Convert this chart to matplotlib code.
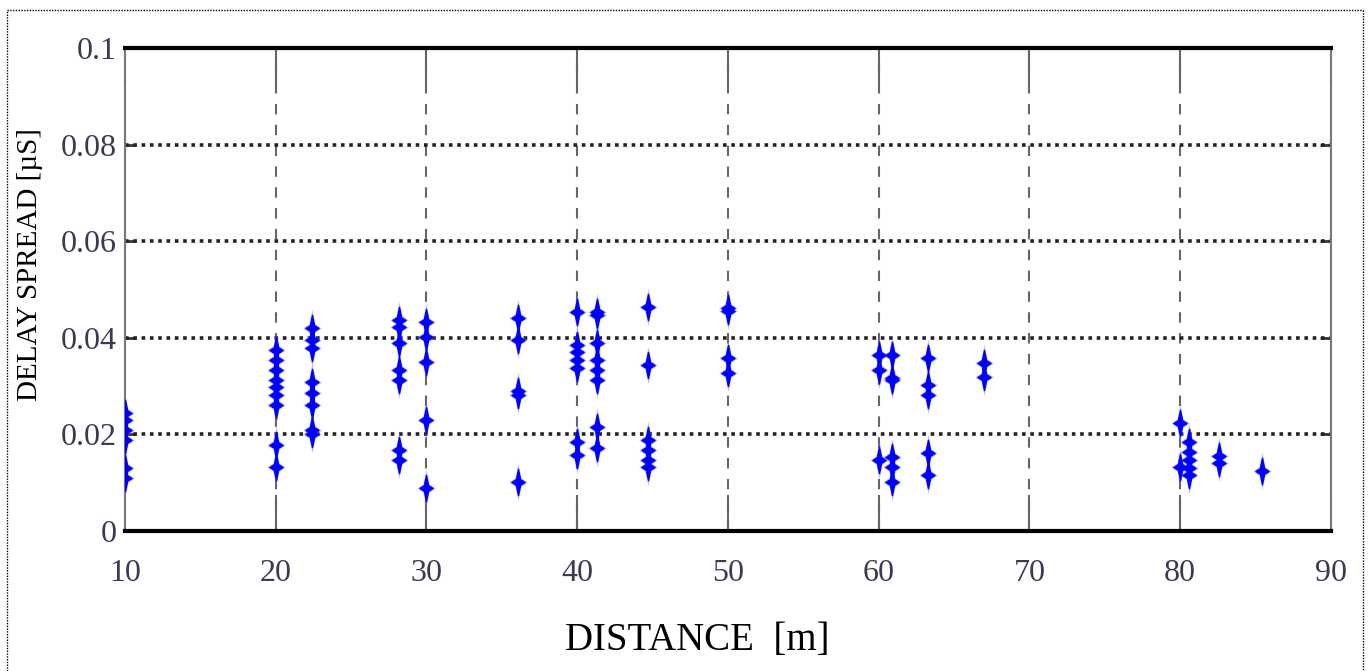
import numpy as np
import matplotlib.pyplot as plt
from matplotlib.path import Path
from matplotlib.lines import Line2D

dist_10 = [10.0, 10.0, 10.0, 10.0, 10.0, 10.0]
ds_10 = [0.0244, 0.0230, 0.0209, 0.0188, 0.0130, 0.0110]
dist_20 = [20.0] * 9
ds_20 = [0.0375, 0.0354, 0.0333, 0.0313, 0.0298, 0.0282, 0.0261, 0.0178, 0.0133]
dist_22 = [22.4] * 8
ds_22 = [0.0420, 0.0395, 0.0379, 0.0308, 0.0286, 0.0261, 0.0210, 0.0200]
dist_28 = [28.2] * 7
ds_28 = [0.0437, 0.0422, 0.0389, 0.0333, 0.0313, 0.0168, 0.0147]
dist_30 = [30.0] * 5
ds_30 = [0.0433, 0.0402, 0.0350, 0.0230, 0.0089]
dist_36 = [36.1] * 5
ds_36 = [0.0441, 0.0395, 0.0290, 0.0282, 0.0101]
dist_40 = [40.0] * 7
ds_40 = [0.0453, 0.0385, 0.0371, 0.0354, 0.0337, 0.0184, 0.0157]
dist_41 = [41.3] * 8
ds_41 = [0.0453, 0.0447, 0.0389, 0.0354, 0.0333, 0.0313, 0.0215, 0.0172]
dist_44 = [44.7] * 6
ds_44 = [0.0464, 0.0344, 0.0188, 0.0168, 0.0147, 0.0133]
dist_50 = [50.0] * 4
ds_50 = [0.0462, 0.0455, 0.0358, 0.0327]
dist_60 = [60.0] * 3
ds_60 = [0.0364, 0.0333, 0.0147]
dist_61 = [60.9] * 6
ds_61 = [0.0364, 0.0317, 0.0313, 0.0153, 0.0133, 0.0101]
dist_63 = [63.3] * 5
ds_63 = [0.0358, 0.0302, 0.0282, 0.0161, 0.0116]
dist_67 = [67.0] * 2
ds_67 = [0.0348, 0.0319]
dist_80 = [80.0] * 2
ds_80 = [0.0224, 0.0133]
dist_81 = [80.6] * 5
ds_81 = [0.0184, 0.0164, 0.0147, 0.0130, 0.0116]
dist_83 = [82.6] * 2
ds_83 = [0.0155, 0.0141]
dist_85 = [85.4]
ds_85 = [0.0124]

distance = (dist_10 + dist_20 + dist_22 + dist_28 + dist_30 + dist_36 + dist_40 + dist_41
            + dist_44 + dist_50 + dist_60 + dist_61 + dist_63 + dist_67 + dist_80 + dist_81
            + dist_83 + dist_85)
delay = (ds_10 + ds_20 + ds_22 + ds_28 + ds_30 + ds_36 + ds_40 + ds_41
         + ds_44 + ds_50 + ds_60 + ds_61 + ds_63 + ds_67 + ds_80 + ds_81
         + ds_83 + ds_85)

x_ticks = [10, 20, 30, 40, 50, 60, 70, 80, 90]
y_ticks = [0, 0.02, 0.04, 0.06, 0.08, 0.1]
y_ticklabels = ["0", "0.02", "0.04", "0.06", "0.08", "0.1"]

# tall, narrow 4-point star marker
star = Path([(0, 1), (0.16, 0.22), (0.5, 0), (0.16, -0.22), (0, -1),
             (-0.16, -0.22), (-0.5, 0), (-0.16, 0.22), (0, 1)],
            [Path.MOVETO] + [Path.LINETO] * 7 + [Path.CLOSEPOLY])

fig = plt.figure(figsize=(13.70, 6.71), dpi=100)
ax = fig.add_axes([0.0912, 0.2086, 0.8803, 0.7199])

ax.plot(distance, delay, linestyle="none", marker=star, markersize=27,
        color="#7070ff", alpha=0.45, markeredgewidth=0, zorder=3)
ax.plot(distance, delay, linestyle="none", marker=star, markersize=19,
        color="#0000ff", markeredgewidth=1.0, markeredgecolor="#0000ff", zorder=4)

ax.set_xlim(10, 90)
ax.set_ylim(0, 0.1)
ax.set_xticks(x_ticks)
ax.set_yticks(y_ticks)
ax.set_yticklabels(y_ticklabels)

for x in x_ticks[1:-1]:
    ax.axvline(x, color="#666666", lw=1.5, linestyle=(0, (5, 5)), zorder=1)
for y in y_ticks[1:-1]:
    ax.axhline(y, color="#222222", lw=2.6, linestyle=(0, (1, 1.3)), zorder=2)

ax.spines["top"].set_linewidth(3)
ax.spines["bottom"].set_linewidth(3)
ax.spines["left"].set_color("#777777")
ax.spines["right"].set_color("#777777")
ax.spines["left"].set_linewidth(1.5)
ax.spines["right"].set_linewidth(1.5)

ax.tick_params(axis="x", direction="in", length=26, width=1.5, color="#666666",
               pad=20, labelsize=23, labelcolor="#3a3a55", top=True)
ax.tick_params(axis="y", direction="in", length=8, width=2, color="#333333",
               pad=6, labelsize=23, labelcolor="#3a3a55", right=True)
for lab in ax.get_xticklabels() + ax.get_yticklabels():
    lab.set_family("Liberation Serif")

fig.text(0.022, 0.605, "DELAY SPREAD [µS]", rotation=90, ha="center", va="center",
         family="Liberation Serif", fontsize=21)
fig.text(0.509, 0.045, "DISTANCE  [m]", ha="center", va="center",
         family="Liberation Serif", fontsize=28)

# dotted frame around the picture
for xs, ys in [([0.005, 0.005], [0, 0.985]), ([0.005, 0.995], [0.985, 0.985]),
               ([0.995, 0.995], [0.985, 0])]:
    fig.add_artist(Line2D(xs, ys, transform=fig.transFigure, color="black",
                          lw=1, linestyle=(0, (1, 1))))

fig.savefig("out.png", dpi=100)
